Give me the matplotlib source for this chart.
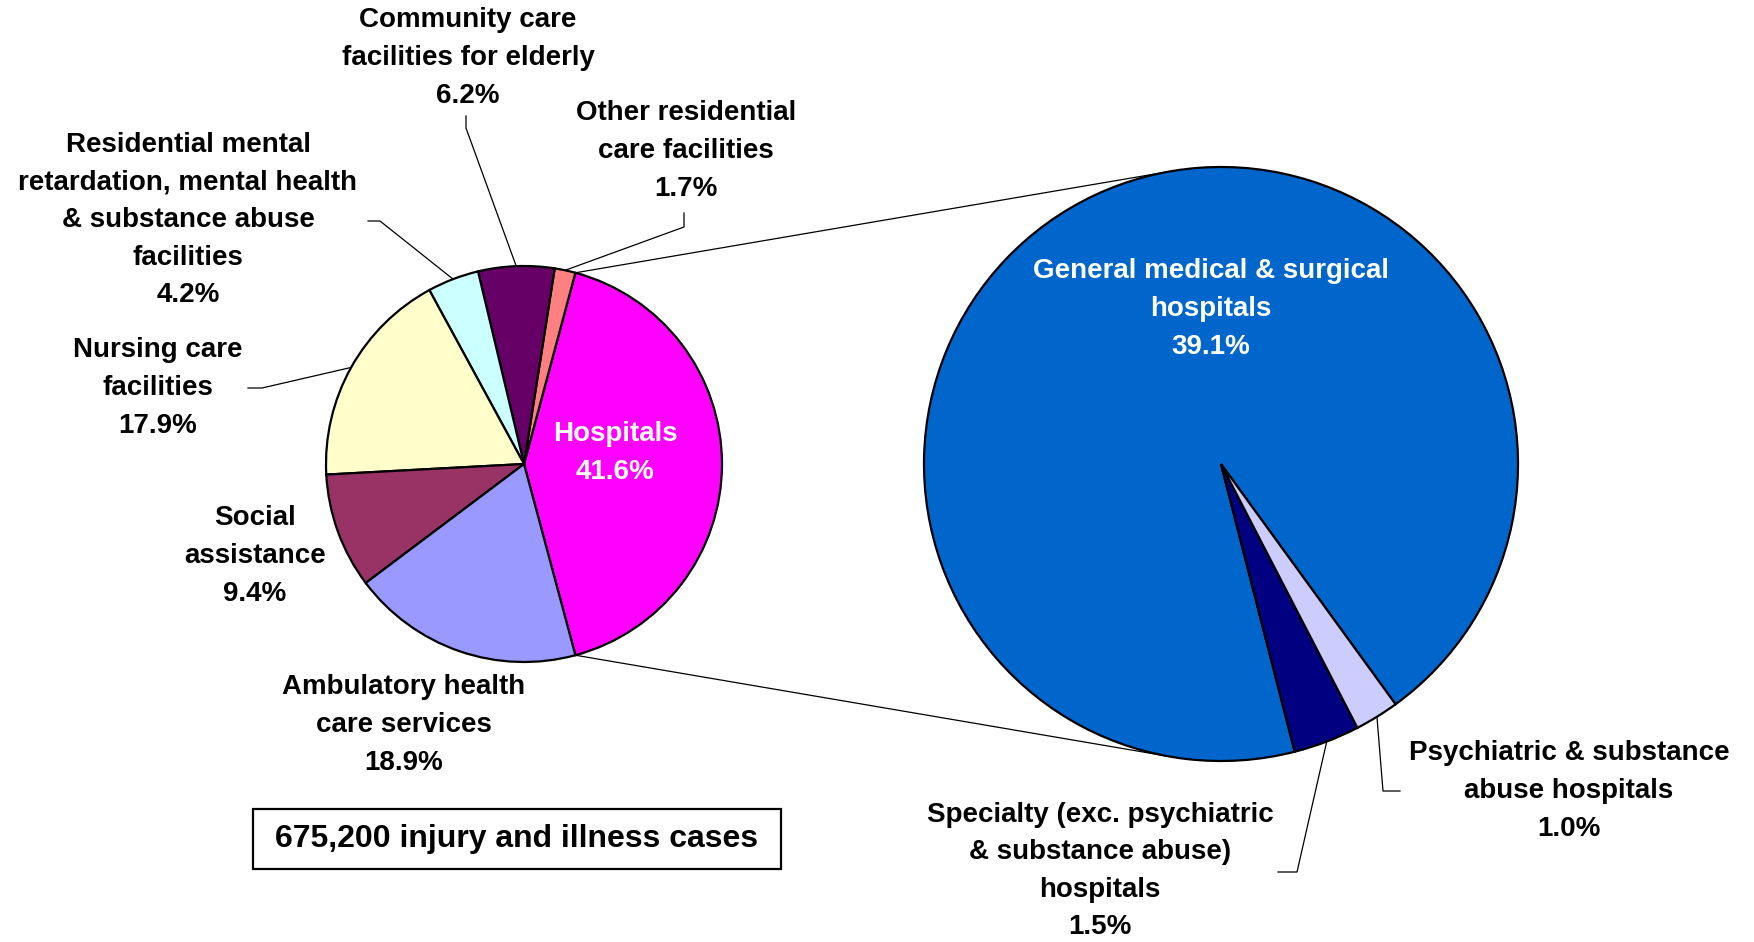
import numpy as np
import matplotlib
matplotlib.use('Agg')
import matplotlib.pyplot as plt
from matplotlib.patches import Rectangle

# data
left_names = ['Hospitals', 'Other residential\ncare facilities', 'Community care\nfacilities for elderly',
              'Residential mental\nretardation, mental health\n& substance abuse\nfacilities',
              'Nursing care\nfacilities', 'Social\nassistance', 'Ambulatory health\ncare services']
left_vals = [41.6, 1.7, 6.2, 4.2, 17.9, 9.4, 18.9]
left_colors = ['#FF00FF', '#FF8080', '#660066', '#CCFFFF', '#FFFFCC', '#993366', '#9999FF']

right_names = ['General medical & surgical\nhospitals', 'Specialty (exc. psychiatric\n& substance abuse)\nhospitals',
               'Psychiatric & substance\nabuse hospitals']
right_vals = [39.1, 1.5, 1.0]
right_colors = ['#0066CC', '#000080', '#CCCCFF']

total_text = '675,200 injury and illness cases'

W, H = 1754, 942
plt.rcParams['font.family'] = ['Liberation Sans', 'DejaVu Sans']
plt.rcParams['font.weight'] = 'bold'

fig = plt.figure(figsize=(W / 100, H / 100), dpi=100)
ax = fig.add_axes([0, 0, 1, 1])

def yy(y):
    # image y (top-down) to axis y
    return H - y

lc = (524, yy(464)); lr = 198
rc = (1221, yy(464)); rr = 297

wedge_kw = dict(edgecolor='black', linewidth=1.6)
lstart = -left_vals[0] / sum(left_vals) * 180
lw, _ = ax.pie(left_vals, colors=left_colors, startangle=lstart, counterclock=True,
               center=lc, radius=lr, wedgeprops=wedge_kw)
rw, _ = ax.pie(right_vals, colors=right_colors, startangle=-54.0, counterclock=True,
               center=rc, radius=rr, wedgeprops=wedge_kw)

ax.set_xlim(0, W)
ax.set_ylim(0, H)
ax.set_aspect('equal')
ax.axis('off')

def rim(c, r, ang):
    a = np.deg2rad(ang)
    return c[0] + r * np.cos(a), c[1] + r * np.sin(a)

# connector lines between the two pies
h = lw[0]
p1 = rim(lc, lr, h.theta2)
p2 = rim(lc, lr, h.theta1)
q1 = rim(rc, rr, 99.4)
q2 = rim(rc, rr, -99.4)
ax.plot([p1[0], q1[0]], [p1[1], q1[1]], color='black', lw=0.9, zorder=0)
ax.plot([p2[0], q2[0]], [p2[1], q2[1]], color='black', lw=0.9, zorder=0)

fs = 20
lsp = 1.58

def lab(txt, x, y, color='black', size=fs):
    ax.text(x, yy(y), txt, ha='center', va='center', fontsize=size, color=color,
            fontweight='bold', linespacing=lsp, zorder=5)

left_pos = [(615, 453), (686, 151), (468, 58), (188, 220), (158, 388), (255, 556), (404, 725)]
for i, (n, v) in enumerate(zip(left_names, left_vals)):
    col = 'white' if i == 0 else 'black'
    lab(f'{n}\n{v:.1f}%', *left_pos[i], color=col)

right_pos = [(1211, 309), (1100, 871), (1569, 791)]
for i, (n, v) in enumerate(zip(right_names, right_vals)):
    col = 'white' if i == 0 else 'black'
    lab(f'{n}\n{v:.1f}%', *right_pos[i], color=col)

# leader lines: (wedge list, center, radius, index, elbow points in image coords)
leaders = [
    (lw, lc, lr, 1, [(684, 213), (684, 227)]),
    (lw, lc, lr, 2, [(466, 116), (466, 128)]),
    (lw, lc, lr, 3, [(368, 221), (380, 221)]),
    (lw, lc, lr, 4, [(248, 388), (262, 388)]),
    (rw, rc, rr, 1, [(1278, 872), (1297, 872)]),
    (rw, rc, rr, 2, [(1400, 791), (1383, 791)]),
]
for wl, c, r, i, pts in leaders:
    w = wl[i]
    e = rim(c, r, (w.theta1 + w.theta2) / 2)
    xs = [p[0] for p in pts] + [e[0]]
    ys = [yy(p[1]) for p in pts] + [e[1]]
    ax.plot(xs, ys, color='black', lw=0.9, zorder=0)

# total box
ax.add_patch(Rectangle((253, yy(869)), 528, 60, facecolor='white', edgecolor='black', lw=1.6, zorder=4))
ax.text(517, yy(839), total_text, ha='center', va='center', fontsize=23, fontweight='bold', zorder=5)

fig.savefig('out.png', dpi=100)
